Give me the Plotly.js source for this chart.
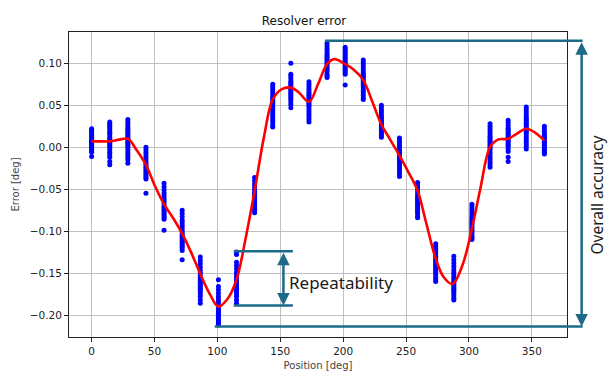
<!DOCTYPE html>
<html>
<head>
<meta charset="utf-8">
<script src="https://cdn.plot.ly/plotly-3.0.1.min.js"></script>
<style>html,body{margin:0;padding:0;background:#fff;}#chart{width:608px;height:371px;}</style>
</head>
<body>
<div id="chart"></div>
<script>
// Measurement positions [deg]
const positions = [0, 14.4, 28.8, 43.2, 57.6, 72, 86.4, 100.8, 115.2, 129.6, 144, 158.4, 172.8,
  187.2, 201.6, 216, 230.4, 244.8, 259.2, 273.6, 288, 302.4, 316.8, 331.2, 345.6, 360];

// Measured error samples at each position [deg]
const col000 = [0.022, 0.020, 0.018, 0.016, 0.014, 0.012, 0.011, 0.010, 0.008, 0.007, 0.006, 0.005, 0.003, 0.002, 0.000, -0.002, -0.004, -0.006, -0.011];
const col014 = [0.030, 0.028, 0.026, 0.024, 0.022, 0.019, 0.017, 0.015, 0.012, 0.010, 0.008, 0.006, 0.004, 0.002, 0.000, -0.003, -0.006, -0.009, -0.012, -0.017, -0.021];
const col029 = [0.033, 0.030, 0.027, 0.024, 0.022, 0.020, 0.018, 0.016, 0.014, 0.012, 0.010, 0.008, 0.006, 0.004, 0.002, 0.000, -0.003, -0.006, -0.009, -0.012, -0.015, -0.019];
const col043 = [0.000, -0.003, -0.006, -0.009, -0.012, -0.015, -0.018, -0.020, -0.022, -0.024, -0.026, -0.028, -0.030, -0.032, -0.034, -0.036, -0.038, -0.055];
const col058 = [-0.043, -0.047, -0.051, -0.055, -0.058, -0.061, -0.064, -0.067, -0.070, -0.072, -0.074, -0.076, -0.078, -0.080, -0.082, -0.084, -0.086, -0.099];
const col072 = [-0.075, -0.079, -0.083, -0.087, -0.090, -0.093, -0.096, -0.099, -0.102, -0.104, -0.106, -0.108, -0.110, -0.112, -0.114, -0.116, -0.118, -0.120, -0.123, -0.134];
const col086 = [-0.131, -0.135, -0.139, -0.143, -0.147, -0.150, -0.153, -0.156, -0.158, -0.160, -0.162, -0.164, -0.166, -0.168, -0.170, -0.172, -0.175, -0.178, -0.182, -0.186];
const col101 = [-0.158, -0.166, -0.170, -0.174, -0.178, -0.181, -0.184, -0.187, -0.190, -0.192, -0.194, -0.196, -0.198, -0.200, -0.202, -0.204, -0.206, -0.208, -0.210, -0.212];
const col115 = [-0.125, -0.128, -0.137, -0.141, -0.145, -0.149, -0.152, -0.155, -0.158, -0.160, -0.162, -0.164, -0.166, -0.168, -0.170, -0.172, -0.175, -0.178, -0.182, -0.186];
const col130 = [-0.036, -0.040, -0.044, -0.047, -0.050, -0.053, -0.055, -0.057, -0.059, -0.061, -0.063, -0.065, -0.067, -0.069, -0.071, -0.073, -0.075, -0.078];
const col144 = [0.075, 0.072, 0.069, 0.066, 0.063, 0.060, 0.058, 0.056, 0.054, 0.052, 0.050, 0.048, 0.046, 0.044, 0.041, 0.038, 0.035, 0.032, 0.029, 0.026, 0.024];
const col158 = [0.100, 0.087, 0.085, 0.082, 0.079, 0.077, 0.075, 0.073, 0.071, 0.069, 0.067, 0.065, 0.063, 0.061, 0.059, 0.057, 0.054, 0.051, 0.047];
const col173 = [0.078, 0.075, 0.072, 0.069, 0.066, 0.064, 0.062, 0.060, 0.058, 0.056, 0.054, 0.052, 0.050, 0.048, 0.045, 0.042, 0.039, 0.036, 0.033, 0.030];
const col187 = [0.124, 0.121, 0.118, 0.115, 0.112, 0.110, 0.108, 0.106, 0.104, 0.102, 0.100, 0.098, 0.096, 0.094, 0.092, 0.090, 0.087, 0.085, 0.083];
const col202 = [0.119, 0.117, 0.115, 0.113, 0.111, 0.109, 0.107, 0.105, 0.103, 0.101, 0.099, 0.097, 0.095, 0.093, 0.091, 0.089, 0.087, 0.074];
const col216 = [0.104, 0.101, 0.098, 0.095, 0.092, 0.089, 0.087, 0.085, 0.083, 0.081, 0.079, 0.077, 0.075, 0.073, 0.071, 0.068, 0.065, 0.062, 0.059, 0.057];
const col230 = [0.050, 0.047, 0.044, 0.041, 0.038, 0.036, 0.034, 0.032, 0.030, 0.028, 0.026, 0.024, 0.022, 0.020, 0.018, 0.016, 0.014, 0.012];
const col245 = [0.011, 0.008, 0.005, 0.002, -0.001, -0.004, -0.006, -0.008, -0.010, -0.012, -0.014, -0.016, -0.018, -0.020, -0.023, -0.026, -0.029, -0.032, -0.035];
const col259 = [-0.042, -0.045, -0.048, -0.051, -0.054, -0.057, -0.059, -0.061, -0.063, -0.065, -0.067, -0.069, -0.071, -0.073, -0.075, -0.077, -0.079, -0.082, -0.084];
const col274 = [-0.115, -0.118, -0.121, -0.124, -0.127, -0.130, -0.132, -0.134, -0.136, -0.138, -0.140, -0.142, -0.144, -0.146, -0.148, -0.150, -0.152, -0.155, -0.158, -0.160];
const col288 = [-0.130, -0.134, -0.138, -0.142, -0.146, -0.149, -0.152, -0.155, -0.158, -0.160, -0.162, -0.164, -0.166, -0.168, -0.170, -0.172, -0.174, -0.177, -0.180, -0.182];
const col302 = [-0.068, -0.071, -0.074, -0.077, -0.080, -0.083, -0.085, -0.087, -0.089, -0.091, -0.093, -0.095, -0.097, -0.099, -0.101, -0.103, -0.106, -0.108, -0.110];
const col317 = [0.028, 0.025, 0.022, 0.019, 0.016, 0.013, 0.011, 0.009, 0.007, 0.005, 0.003, 0.001, -0.001, -0.003, -0.006, -0.009, -0.012, -0.015, -0.018, -0.021, -0.024];
const col331 = [0.032, 0.029, 0.026, 0.023, 0.021, 0.019, 0.017, 0.015, 0.013, 0.011, 0.009, 0.007, 0.005, 0.003, 0.001, -0.002, -0.005, -0.012, -0.017];
const col346 = [0.048, 0.045, 0.042, 0.039, 0.036, 0.034, 0.032, 0.030, 0.028, 0.026, 0.024, 0.022, 0.020, 0.018, 0.016, 0.013, 0.010, 0.007, 0.004, 0.001, -0.002];
const col360 = [0.025, 0.022, 0.019, 0.016, 0.014, 0.012, 0.010, 0.008, 0.006, 0.004, 0.002, 0.000, -0.002, -0.004, -0.006, -0.008];

const sampleColumns = [col000, col014, col029, col043, col058, col072, col086, col101, col115, col130,
  col144, col158, col173, col187, col202, col216, col230, col245, col259, col274, col288, col302,
  col317, col331, col346, col360];

// Fitted error curve
const fitX = [0, 7, 14.4, 22, 28.8, 36, 43.2, 50, 57.6, 65, 72, 79, 86.4, 94, 100.8, 108, 115.2, 122,
  129.6, 137, 144, 151, 158.4, 165, 172.8, 180, 187.2, 193, 201.6, 208, 216, 223, 230.4, 237, 244.8,
  252, 259.2, 266, 273.6, 280, 287, 295, 302.4, 309, 316.8, 323, 331.2, 338, 345.6, 352, 360];
const fitY = [0.007, 0.007, 0.007, 0.009, 0.010, -0.004, -0.021, -0.045, -0.068, -0.085, -0.103,
  -0.125, -0.151, -0.175, -0.190, -0.181, -0.158, -0.112, -0.052, 0.012, 0.057, 0.069, 0.071, 0.065,
  0.054, 0.075, 0.099, 0.105, 0.099, 0.093, 0.080, 0.055, 0.027, 0.010, -0.010, -0.030, -0.052, -0.090,
  -0.133, -0.155, -0.163, -0.140, -0.097, -0.050, 0.000, 0.009, 0.010, 0.016, 0.022, 0.018, 0.008];

// Axis ticks
const xTicks = [0, 50, 100, 150, 200, 250, 300, 350];
const yTicks = [-0.20, -0.15, -0.10, -0.05, 0.00, 0.05, 0.10];
const xRange = [-18, 378];
const yRange = [-0.2262, 0.1373];

// Annotation levels
const overallMax = 0.127, overallMin = -0.2137;
const repeatTop = -0.124, repeatBottom = -0.1887;

const sx = [], sy = [];
sampleColumns.forEach((col, i) => col.forEach(v => { sx.push(positions[i]); sy.push(v); }));

const teal = '#1b6a88';
const px = x => (x - xRange[0]) / (xRange[1] - xRange[0]);
const py = y => (y - yRange[0]) / (yRange[1] - yRange[0]);
const arrowX = 1.0294;

const traces = [
  { x: sx, y: sy, type: 'scatter', mode: 'markers', marker: { color: '#0000ff', size: 5 }, hoverinfo: 'skip' },
  { x: fitX, y: fitY, type: 'scatter', mode: 'lines', line: { color: '#ff0000', width: 2.6, shape: 'spline', smoothing: 1 } }
];

const axisCommon = {
  showgrid: true, gridcolor: '#b0b0b0', gridwidth: 0.8, zeroline: false,
  showline: true, mirror: true, linecolor: '#222', linewidth: 1,
  ticks: 'outside', ticklen: 4, tickwidth: 1, tickcolor: '#222',
  tickfont: { family: 'DejaVu Sans', size: 10.5, color: '#222' }
};

const layout = {
  width: 608, height: 371,
  margin: { l: 69, r: 41, t: 32, b: 34 },
  paper_bgcolor: '#fff', plot_bgcolor: '#fff',
  showlegend: false,
  title: { text: 'Resolver error', font: { family: 'DejaVu Sans', size: 12, color: '#111' }, x: 0.5, xanchor: 'center', y: 0.945, yanchor: 'middle' },
  xaxis: Object.assign({}, axisCommon, { range: xRange, tickvals: xTicks,
    title: { text: 'Position [deg]', font: { family: 'DejaVu Sans', size: 10, color: '#444' }, standoff: 7 } }),
  yaxis: Object.assign({}, axisCommon, { range: yRange, tickvals: yTicks, tickformat: '.2f',
    title: { text: 'Error [deg]', font: { family: 'DejaVu Sans', size: 10, color: '#444' }, standoff: 8 } }),
  shapes: [
    { type: 'line', xref: 'paper', yref: 'paper', x0: px(185.5), x1: arrowX + 0.002, y0: py(overallMax), y1: py(overallMax), line: { color: teal, width: 2.5 } },
    { type: 'line', xref: 'paper', yref: 'paper', x0: px(97.9), x1: arrowX + 0.002, y0: py(overallMin), y1: py(overallMin), line: { color: teal, width: 2.5 } },
    { type: 'line', xref: 'paper', yref: 'paper', x0: px(113), x1: px(160), y0: py(repeatTop), y1: py(repeatTop), line: { color: teal, width: 2.5 } },
    { type: 'line', xref: 'paper', yref: 'paper', x0: px(113), x1: px(160), y0: py(repeatBottom), y1: py(repeatBottom), line: { color: teal, width: 2.5 } }
  ],
  annotations: [
    { xref: 'paper', yref: 'paper', x: px(152.5), y: py(repeatBottom), axref: 'paper', ayref: 'paper', ax: px(152.5), ay: py(repeatTop),
      text: '', showarrow: true, arrowside: 'end+start', arrowhead: 2, startarrowhead: 2, arrowsize: 1, startarrowsize: 1, arrowwidth: 2.5, arrowcolor: teal },
    { xref: 'paper', yref: 'paper', x: arrowX, y: py(overallMin), axref: 'paper', ayref: 'paper', ax: arrowX, ay: py(overallMax),
      text: '', showarrow: true, arrowside: 'end+start', arrowhead: 2, startarrowhead: 2, arrowsize: 1, startarrowsize: 1, arrowwidth: 2.5, arrowcolor: teal },
    { xref: 'paper', yref: 'paper', x: px(155), y: py(-0.161), xanchor: 'left', yanchor: 'middle', showarrow: false,
      text: 'Repeatability', font: { family: 'Noto Sans', size: 17, color: '#1a1a1a' } },
    { xref: 'paper', yref: 'paper', x: 1.0602, y: py(-0.0564), xanchor: 'center', yanchor: 'middle', showarrow: false, textangle: -90, borderpad: 0,
      text: 'Overall accuracy', font: { family: 'Noto Sans', size: 15.5, color: '#1a1a1a' } }
  ]
};

Plotly.newPlot('chart', traces, layout, { displayModeBar: false, staticPlot: true });
</script>
</body>
</html>
